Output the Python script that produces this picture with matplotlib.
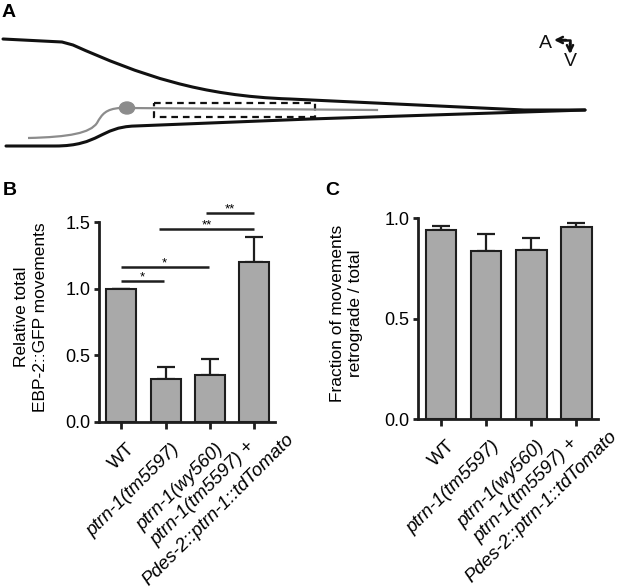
import numpy as np
import matplotlib
matplotlib.use('Agg')
import matplotlib.pyplot as plt
from matplotlib.path import Path
from matplotlib.patches import PathPatch, Ellipse, Rectangle
from matplotlib.transforms import ScaledTranslation

plt.rcParams['font.family'] = ['Liberation Sans', 'DejaVu Sans']

# ---------------- data ----------------
x_labels = ['WT', 'ptrn-1(tm5597)', 'ptrn-1(wy560)', 'ptrn-1(tm5597) +']
x_label_line2 = 'Pdes-2::ptrn-1::tdTomato'
x_italic = [False, True, True, True]

total_mean = [1.0, 0.32, 0.35, 1.20]
total_err = [0.0, 0.09, 0.125, 0.19]

retro_mean = [0.94, 0.836, 0.842, 0.959]
retro_err = [0.021, 0.084, 0.062, 0.018]

sig_x0 = [-0.02, -0.02, 0.85, 1.925]
sig_x1 = [0.96, 1.98, 3.0, 3.0]
sig_y = [1.06, 1.166, 1.45, 1.57]
sig_txt = ['*', '*', '**', '**']

b_yticks = [0.0, 0.5, 1.0, 1.5]
c_yticks = [0.0, 0.5, 1.0]

# ---------------- style ----------------
W, H = 617, 587
FS = 13
XFS = 13.5
BAR_C = '#a9a9a9'
EDGE = '#1e1e1e'

fig = plt.figure(figsize=(W / 100, H / 100), dpi=100)

# ---------------- panel A (schematic) ----------------
axA = fig.add_axes([0, 0, 1, 1])
axA.set_xlim(0, W)
axA.set_ylim(H, 0)
axA.axis('off')

M, L, C4 = Path.MOVETO, Path.LINETO, Path.CURVE4
upper_v = [(3, 39), (62, 42), (73, 45), (140, 75), (200, 96), (290, 99), (524, 110), (585, 110)]
upper_c = [M, L, L, C4, C4, C4, L, L]
lower_v = [(6, 146), (55, 146), (100, 146), (100, 127), (135, 126), (310, 119), (524, 112), (585, 110)]
lower_c = [M, L, C4, C4, C4, L, L, L]
neuron_v = [(28, 138), (70, 137), (90, 133), (97, 123), (102, 114), (106, 109), (120, 108)]
neuron_c = [M, C4, C4, C4, C4, C4, C4]

for v, c in [(upper_v, upper_c), (lower_v, lower_c)]:
    axA.add_patch(PathPatch(Path(v, c), fill=False, lw=2.2, ec='#111111', capstyle='round'))
axA.add_patch(PathPatch(Path(neuron_v, neuron_c), fill=False, lw=1.6, ec='#8c8c8c'))
axA.plot([127, 377], [108, 110], color='#8c8c8c', lw=1.6)
axA.add_patch(Ellipse((127, 108), 15, 12, color='#8c8c8c'))
axA.add_patch(Rectangle((154, 103), 161, 14, fill=False, ec='#111111', lw=1.6,
                        ls=(0, (3.0, 2.2))))

# orientation arrows
axA.plot([559, 570, 570], [40, 40, 50], color='#111111', lw=1.8)
axA.annotate('', xy=(554, 40), xytext=(566, 40),
             arrowprops=dict(arrowstyle='->', lw=1.8, color='#111111',
                             shrinkA=0, shrinkB=0, mutation_scale=11))
axA.annotate('', xy=(570, 54), xytext=(570, 43),
             arrowprops=dict(arrowstyle='->', lw=1.8, color='#111111',
                             shrinkA=0, shrinkB=0, mutation_scale=11))
axA.text(545, 43, 'A', fontsize=FS + 1, ha='center', va='center', color='#111111')
axA.text(570, 62, 'V', fontsize=FS + 1, ha='center', va='center', color='#111111')

# panel letters
for lab, px, py in [('A', 2, 4), ('B', 3, 182), ('C', 325, 182)]:
    fig.text(px / W, 1 - py / H, lab, fontsize=14, fontweight='bold', ha='left', va='top')


def fig_rect(x0, x1, ytop, ybot):
    return [x0 / W, 1 - ybot / H, (x1 - x0) / W, (ybot - ytop) / H]


LAB_DX, LAB_DY = 11 / 100, -24.5 / 100   # inches: end of single-line labels vs tick
L2_DX, L2_DY = 38.0, -14.5               # pixels: end of last label's 2nd line vs tick
SP = 22.0                                # pixels between the two lines


def style_axes(ax, means, errs, yticks, ylim_top):
    x = np.arange(len(means))
    ax.errorbar(x, means, yerr=[np.zeros(len(errs)), errs], fmt='none', ecolor=EDGE,
                elinewidth=1.6, capsize=6.5, capthick=1.6, zorder=2, clip_on=False)
    ax.bar(x, means, width=0.68, color=BAR_C, edgecolor=EDGE, linewidth=1.5, zorder=3)
    ax.set_xlim(-0.51, 3.48)
    ax.set_ylim(0, ylim_top)
    ax.set_yticks(yticks)
    ax.set_yticklabels([f'{t:.1f}' for t in yticks])
    ax.set_xticks(x)
    ax.set_xticklabels([])
    trans = ax.get_xaxis_transform() + ScaledTranslation(LAB_DX, LAB_DY, fig.dpi_scale_trans)
    for i, (lab, it) in enumerate(zip(x_labels[:-1], x_italic[:-1])):
        ax.text(i, 0, lab, transform=trans, rotation=45, rotation_mode='anchor',
                ha='right', va='center', fontsize=XFS,
                fontstyle='italic' if it else 'normal', clip_on=False)
    for s in ['top', 'right']:
        ax.spines[s].set_visible(False)
    for s in ['left', 'bottom']:
        ax.spines[s].set_linewidth(2.0)
        ax.spines[s].set_color(EDGE)
    ax.tick_params(axis='y', direction='out', length=3.8, width=2.0, color=EDGE,
                   labelsize=FS, pad=2.5)
    ax.tick_params(axis='x', direction='out', length=5.0, width=2.0, color=EDGE)
    ax.set_facecolor('none')


# ---------------- panel B ----------------
axB = fig.add_axes(fig_rect(99, 275, 222, 422))
style_axes(axB, total_mean, total_err, b_yticks, 1.5)
axB.set_ylabel('Relative total\nEBP-2::GFP movements', fontsize=12.5, linespacing=1.3)
axB.yaxis.set_label_coords(-0.29, 0.525)
for x0, x1, y, t in zip(sig_x0, sig_x1, sig_y, sig_txt):
    axB.plot([x0, x1], [y, y], color=EDGE, lw=1.8, clip_on=False, solid_capstyle='butt')
    axB.text((x0 + x1) / 2, y + 0.004, t, ha='center', va='baseline', fontsize=9.5,
             clip_on=False)

# ---------------- panel C ----------------
axC = fig.add_axes(fig_rect(418, 598, 218.3, 419))
style_axes(axC, retro_mean, retro_err, c_yticks, 1.0)
axC.set_ylabel('Fraction of movements\nretrograde / total', fontsize=12.5, linespacing=1.3)
axC.yaxis.set_label_coords(-0.305, 0.527)

# last (two-line) tick label: the two lines centred on each other
fig.canvas.draw()
rend = fig.canvas.get_renderer()
cs = np.cos(np.pi / 4)
tmp = fig.text(0, 0, x_label_line2, fontsize=XFS, fontstyle='italic')
w2 = tmp.get_window_extent(rend).width
tmp.remove()
for ax in (axB, axC):
    tx, ty = ax.get_xaxis_transform().transform((len(x_labels) - 1, 0))
    ex, ey = tx + L2_DX, ty + L2_DY
    c2x, c2y = ex - w2 / 2 * cs, ey - w2 / 2 * cs
    c1x, c1y = c2x - SP * cs, c2y + SP * cs
    fig.text(c2x / W, c2y / H, x_label_line2, rotation=45, rotation_mode='anchor',
             ha='center', va='center', fontsize=XFS, fontstyle='italic')
    fig.text(c1x / W, c1y / H, x_labels[-1], rotation=45, rotation_mode='anchor',
             ha='center', va='center', fontsize=XFS, fontstyle='italic')

fig.savefig('out.png', dpi=100)
